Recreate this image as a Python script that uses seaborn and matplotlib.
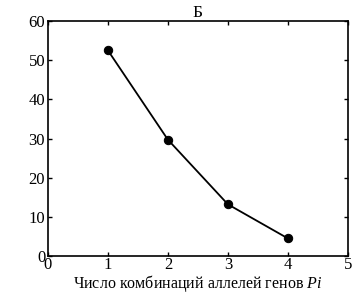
import matplotlib
matplotlib.use("Agg")
import matplotlib.pyplot as plt
import seaborn as sns
import pandas as pd

x_vals = [1, 2, 3, 4]
y_vals = [52.5, 29.7, 13.2, 4.5]
x_ticks = [0, 1, 2, 3, 4, 5]
y_ticks = [0, 10, 20, 30, 40, 50, 60]

sns.set_theme(style="ticks")
plt.rcParams['font.family'] = ['Liberation Serif', 'DejaVu Serif']
plt.rcParams['mathtext.fontset'] = 'custom'
plt.rcParams['mathtext.it'] = 'Liberation Serif:italic'
plt.rcParams['mathtext.rm'] = 'Liberation Serif'

df = pd.DataFrame({"x": x_vals, "y": y_vals})

fig = plt.figure(figsize=(3.55, 2.96), dpi=100)
ax = fig.add_axes([0.135, 0.135, 0.845, 0.794])
sns.lineplot(data=df, x="x", y="y", ax=ax, color="black", linewidth=1.3,
             marker="o", markersize=6, markeredgecolor="black", markerfacecolor="black")
ax.set_xlim(0, 5)
ax.set_ylim(0, 60)
ax.set_xticks(x_ticks)
ax.set_yticks(y_ticks)
ax.tick_params(direction="in", top=True, right=True, length=3, width=1,
               labelsize=12, colors="black", pad=2)
ax.tick_params(axis="x", pad=1)
for s in ax.spines.values():
    s.set_linewidth(1.2)
    s.set_color("black")
ax.set_xlabel(r"Число комбинаций аллелей генов $Pi$", fontsize=11.5, labelpad=-0.5, color="black")
ax.set_ylabel("")
ax.set_title("Б", fontsize=12.5, pad=3, color="black")
fig.savefig("out.png", dpi=100)
